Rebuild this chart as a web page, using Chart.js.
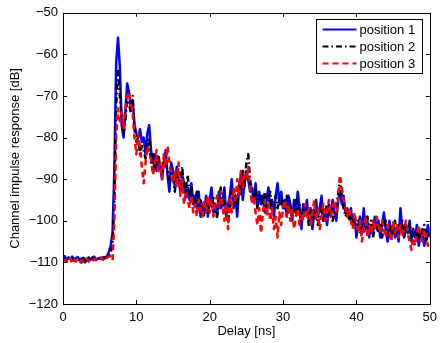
<!DOCTYPE html>
<html>
<head>
<meta charset="utf-8">
<script src="https://cdn.jsdelivr.net/npm/chart.js@4"></script>
<style>
  html, body { margin: 0; padding: 0; background: #fff; }
  #wrap { width: 443px; height: 343px; }
</style>
</head>
<body>
<div id="wrap"><canvas id="my_Chart" width="443" height="343"></canvas></div>
<script>
// Delay step of the samples [ns]
var step = 0.25;
var seriesNames = ["position 1", "position 2", "position 3"];
var xTicks = [0, 10, 20, 30, 40, 50];
var yTicks = [-120, -110, -100, -90, -80, -70, -60, -50];

// Channel impulse response [dB], 4 samples per ns, 0..50 ns
var pos1 = [
  -109, -108.5, -109.5, -108.8,  -109.2, -108.6, -109.4, -109.0,
  -108.7, -109.3, -109.1, -109.6,  -110.0, -109.2, -108.8, -109.4,
  -109.0, -108.6, -109.3, -109.1,  -108.9, -109.2, -108.7, -109.0,
  -108.5, -107.5, -106, -103,  -88, -62, -56, -63,
  -77, -80, -74, -67,  -69, -73, -71, -77,
  -79, -80, -78, -81,  -80, -84, -79, -77,
  -83, -86, -84, -88,  -85, -87, -90, -86,
  -83, -89, -93, -86,  -88, -92, -87, -90,
  -93, -89, -91, -94,  -92, -95, -91, -96,
  -94, -97, -93, -99,  -96, -98, -94, -99,
  -95, -92, -98, -96,  -99, -93, -97, -95,
  -92, -99, -96, -94,  -90, -97, -94, -99,
  -92, -89, -95, -91,  -88, -90, -93, -92,
  -95, -91, -97, -93,  -96, -94, -98, -95,
  -92, -97, -95, -99,  -94, -91, -96, -93,
  -97, -95, -99, -94,  -96, -100, -95, -98,
  -93, -97, -102, -96,  -98, -95, -100, -97,
  -102, -98, -95, -99,  -97, -94, -100, -98,
  -101, -96, -99, -95,  -98, -100, -95, -93,
  -96, -94, -98, -97,  -99, -97, -101, -99,
  -104, -101, -99, -103,  -97, -102, -100, -104,
  -101, -103, -99, -102,  -100, -104, -101, -98,
  -102, -105, -100, -103,  -101, -104, -102, -105,
  -97, -102, -104, -101,  -103, -100, -105, -102,
  -104, -101, -106, -103,  -102, -106, -104, -101,
  -104
];
var pos2 = [
  -109.5, -109.2, -109.8, -109.0,  -109.4, -109.1, -109.6, -109.3,
  -109.0, -109.5, -109.2, -108.9,  -109.3, -109.6, -109.0, -109.4,
  -108.8, -109.2, -109.4, -109.0,  -109.1, -108.8, -109.3, -108.7,
  -108.7, -108.5, -107.5, -106,  -95, -72, -64, -70,
  -75, -79, -76, -71,  -72, -74, -70, -78,
  -81, -80, -84, -82,  -83, -85, -82, -80,
  -86, -84, -88, -85,  -84, -87, -89, -85,
  -86, -88, -90, -87,  -89, -93, -88, -91,
  -90, -87, -93, -92,  -89, -94, -92, -95,
  -96, -93, -97, -95,  -97, -99, -96, -98,
  -95, -97, -94, -98,  -99, -96, -92, -97,
  -95, -98, -100, -97,  -93, -96, -94, -97,
  -91, -94, -88, -92,  -86, -84, -90, -93,
  -94, -92, -97, -95,  -94, -96, -93, -97,
  -95, -93, -98, -96,  -94, -97, -95, -96,
  -95, -97, -94, -98,  -96, -99, -97, -95,
  -98, -96, -100, -97,  -99, -97, -101, -98,
  -97, -100, -98, -101,  -99, -97, -100, -98,
  -96, -99, -97, -100,  -98, -96, -94, -90,
  -94, -97, -99, -98,  -100, -98, -101, -99,
  -102, -100, -103, -101,  -103, -101, -99, -102,
  -100, -104, -102, -101,  -103, -101, -104, -102,
  -100, -103, -101, -104,  -102, -100, -103, -101,
  -102, -100, -104, -101,  -103, -101, -104, -102,
  -102, -105, -103, -104,  -103, -101, -105, -103,
  -104
];
var pos3 = [
  -109.8, -109.3, -110.0, -109.5,  -109.0, -110.2, -109.4, -109.8,
  -109.1, -109.7, -110.1, -109.3,  -109.6, -109.0, -109.8, -109.4,
  -109.7, -109.2, -109.5, -109.0,  -109.3, -108.8, -109.6, -109.1,
  -108.9, -108.6, -108.5, -109.5,  -100, -80, -73, -76,
  -74, -78, -73, -70,  -69, -72, -74, -80,
  -84, -79, -82, -87,  -91, -86, -82, -84,
  -85, -89, -87, -83,  -88, -86, -90, -84,
  -87, -82, -86, -89,  -91, -88, -92, -86,
  -94, -90, -96, -93,  -95, -97, -94, -98,
  -96, -99, -95, -97,  -99, -95, -98, -94,
  -98, -95, -99, -96,  -94, -97, -93, -96,
  -100, -96, -102, -94,  -98, -92, -95, -90,
  -94, -88, -92, -89,  -90, -87, -92, -96,
  -94, -98, -101, -97,  -103, -98, -95, -99,
  -96, -100, -97, -102,  -99, -104, -98, -101,
  -97, -95, -99, -96,  -100, -97, -102, -99,
  -97, -101, -98, -100,  -96, -99, -97, -101,
  -98, -95, -100, -97,  -102, -99, -96, -100,
  -98, -95, -99, -97,  -95, -98, -96, -89,
  -92, -95, -97, -99,  -97, -100, -102, -98,
  -101, -103, -100, -105,  -102, -99, -104, -101,
  -103, -100, -102, -99,  -101, -103, -100, -102,
  -104, -101, -103, -105,  -100, -103, -101, -104,
  -101, -104, -102, -100,  -103, -105, -107, -104,
  -106, -103, -101, -104,  -105, -102, -104, -106,
  -105
];

function toPoints(vals) {
  return vals.map(function (v, i) { return { x: i * step, y: v }; });
}
function minus(v) { return String(v).replace('-', '\u2212'); }

var FONT = '"Liberation Sans", Arial, sans-serif';
Chart.defaults.font.family = FONT;
Chart.defaults.font.size = 13;
Chart.defaults.color = '#000';

// box around the plot + inward ticks on all four sides
var boxPlugin = {
  id: 'box',
  afterDatasetsDraw: function (chart) {
    var c = chart.ctx, a = chart.chartArea;
    var xs = chart.scales.x, ys = chart.scales.y;
    c.save();
    c.strokeStyle = '#000';
    c.lineWidth = 1;
    c.strokeRect(Math.round(a.left) + 0.5, Math.round(a.top) + 0.5,
      Math.round(a.right - a.left), Math.round(a.bottom - a.top));
    c.beginPath();
    xTicks.forEach(function (t) {
      var px = Math.round(xs.getPixelForValue(t)) + 0.5;
      c.moveTo(px, a.bottom); c.lineTo(px, a.bottom - 4);
      c.moveTo(px, a.top); c.lineTo(px, a.top + 4);
    });
    yTicks.forEach(function (t) {
      var py = Math.round(ys.getPixelForValue(t)) + 0.5;
      c.moveTo(a.left, py); c.lineTo(a.left + 4, py);
      c.moveTo(a.right, py); c.lineTo(a.right - 4, py);
    });
    c.stroke();
    c.restore();
  },
  afterDraw: function (chart) {
    // legend box in the upper right corner
    var c = chart.ctx, a = chart.chartArea;
    var w = 106, h = 54;
    var x0 = Math.round(a.right - 8 - w) + 0.5, y0 = Math.round(a.top + 6) + 0.5;
    c.save();
    c.fillStyle = '#fff';
    c.fillRect(x0, y0, w, h);
    c.strokeStyle = '#000';
    c.lineWidth = 1;
    c.strokeRect(x0, y0, w, h);
    c.font = '13px ' + FONT;
    c.textBaseline = 'middle';
    chart.data.datasets.forEach(function (ds, i) {
      var y = y0 + 10 + i * 17;
      c.beginPath();
      c.strokeStyle = ds.borderColor;
      c.lineWidth = 2;
      c.setLineDash(ds.borderDash || []);
      c.moveTo(x0 + 6, y); c.lineTo(x0 + 40, y);
      c.stroke();
      c.setLineDash([]);
      c.fillStyle = '#000';
      c.fillText(ds.label, x0 + 43, y + 0.5);
    });
    c.restore();
  }
};

var ctx = document.getElementById('my_Chart').getContext('2d');
var myChart = new Chart(ctx, {
  type: 'line',
  data: {
    datasets: [
      { label: seriesNames[0], data: toPoints(pos1), borderColor: '#0000ff', borderWidth: 2.5, order: 3 },
      { label: seriesNames[1], data: toPoints(pos2), borderColor: '#000000', borderWidth: 2.5, borderDash: [6, 3, 1.5, 3], order: 2 },
      { label: seriesNames[2], data: toPoints(pos3), borderColor: '#ff0000', borderWidth: 2.5, borderDash: [6, 4], order: 1 }
    ]
  },
  options: {
    responsive: false,
    animation: false,
    events: [],
    elements: { point: { radius: 0 }, line: { tension: 0, borderJoinStyle: 'round' } },
    layout: { padding: { top: 10, right: 8, left: 0, bottom: 0 } },
    plugins: { legend: { display: false }, tooltip: { enabled: false } },
    scales: {
      x: {
        type: 'linear', min: 0, max: 50,
        afterFit: function (s) { s.height = 39; },
        afterBuildTicks: function (s) { s.ticks = xTicks.map(function (v) { return { value: v }; }); },
        grid: { display: false, drawTicks: false },
        border: { display: false },
        ticks: { padding: 6, maxRotation: 0, callback: function (v) { return minus(v); } },
        title: { display: true, text: 'Delay [ns]', padding: { top: 0, bottom: 4 } }
      },
      y: {
        min: -120, max: -50,
        afterFit: function (s) { s.width = 63; },
        afterBuildTicks: function (s) { s.ticks = yTicks.map(function (v) { return { value: v }; }); },
        grid: { display: false, drawTicks: false },
        border: { display: false },
        ticks: { padding: 5, callback: function (v) { return minus(v); } },
        title: { display: true, text: 'Channel impulse response [dB]', padding: { top: 8, bottom: 0 } }
      }
    }
  },
  plugins: [boxPlugin]
});
</script>
</body>
</html>
